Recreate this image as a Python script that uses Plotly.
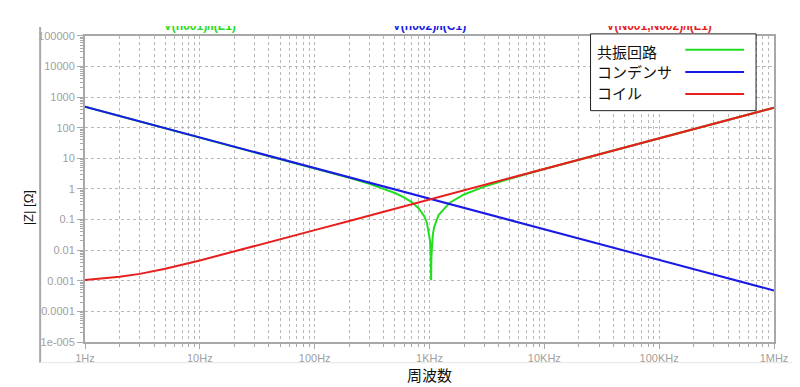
import plotly.graph_objects as go

# ---------------- data ----------------
freq_hz = [1, 2, 3, 5, 10, 20, 50, 100, 200, 300, 400, 500, 600, 700, 800, 900,
           950, 1000, 1010, 1020, 1025, 1030, 1033, 1036, 1040, 1050, 1070, 1100,
           1200, 1500, 2000, 3000, 5000, 10000, 100000, 1000000]

z_resonance = [480, 240, 160, 96, 48, 24, 9.58, 4.755, 2.31, 1.465, 1.02, 0.735,
               0.53, 0.371, 0.24, 0.128, 0.0775, 0.03, 0.0205, 0.0116, 0.007,
               0.0027, 0.00105, 0.0031, 0.0066, 0.0154, 0.033, 0.0586, 0.14,
               0.355, 0.66, 1.19, 2.154, 4.452, 45.0, 450]

z_capacitor = [480, 240, 160, 96, 48, 24, 9.6, 4.8, 2.4, 1.6, 1.2, 0.96, 0.8,
               0.686, 0.6, 0.533, 0.505, 0.48, 0.475, 0.4706, 0.4683, 0.466,
               0.4647, 0.4633, 0.4615, 0.4571, 0.4486, 0.4364, 0.4, 0.32, 0.24,
               0.16, 0.096, 0.048, 0.0048, 0.00048]

z_coil = [0.00105, 0.00135, 0.00168, 0.00246, 0.0046, 0.009, 0.0225, 0.045,
          0.09, 0.135, 0.18, 0.225, 0.27, 0.315, 0.36, 0.405, 0.4275, 0.45,
          0.4545, 0.459, 0.4613, 0.4635, 0.4649, 0.4662, 0.468, 0.4725, 0.4815,
          0.495, 0.54, 0.675, 0.9, 1.35, 2.25, 4.5, 45, 450]

series_names = ["共振回路", "コンデンサ", "コイル"]
probe_labels = ["V(n001)/I(L1)", "V(n002)/I(C1)", "V(N001,N002)/I(L1)"]
probe_label_freq = [10, 1000, 100000]

x_tick_vals = [1, 10, 100, 1000, 10000, 100000, 1000000]
x_tick_text = ["1Hz", "10Hz", "100Hz", "1KHz", "10KHz", "100KHz", "1MHz"]
y_tick_vals = [1e5, 1e4, 1e3, 1e2, 1e1, 1, 0.1, 0.01, 0.001, 0.0001, 0.00001]
y_tick_text = ["100000", "10000", "1000", "100", "10", "1", "0.1", "0.01",
               "0.001", "0.0001", "1e-005"]

x_title = "周波数"
y_title = "|Z| [Ω]"

# ---------------- styling ----------------
colors = ["#22dd22", "#1a1ae6", "#e81e1e"]
GRID = "#b8b8b8"
AX = "#a8a8a8"
TICKFONT = dict(family="Liberation Sans, Arial", size=11, color="#a0a0a0")
CJK = "Noto Sans CJK JP"

# the page has an 8px body margin; layout is designed in window pixels
OFF = 8
W, H = 800 - OFF, 387 - OFF
PLOT_L, PLOT_R, PLOT_T, PLOT_B = 85, 776, 31, 342   # window pixels of the plot frame
PAPER_T = 21                                         # top of paper (clips probe labels)
L = PLOT_L - OFF
R = W - (PLOT_R - OFF)
T = PAPER_T - OFF
B = H - (PLOT_B - OFF)
PW = PLOT_R - PLOT_L
PH = PLOT_B - PAPER_T


def px(x):
    return (x - PLOT_L) / PW


def py(y):
    return (PLOT_B - y) / PH


main_top = py(PLOT_T)

x_minor = [m * 10 ** k for k in range(0, 6) for m in range(2, 10)]
y_minor = [m * 10.0 ** k for k in range(-5, 5) for m in range(2, 10)]

fig = go.Figure()
for name, vals, col in zip(series_names, [z_resonance, z_capacitor, z_coil], colors):
    fig.add_trace(go.Scatter(x=freq_hz, y=vals, mode="lines", name=name,
                             line=dict(color=col, width=2), showlegend=False))

# probe labels in a thin strip above the plot, clipped at its top edge
for lab, f, col in zip(probe_labels, probe_label_freq, colors):
    fig.add_trace(go.Scatter(x=[f], y=[0.95], mode="text", text=[lab],
                             xaxis="x2", yaxis="y2", cliponaxis=True,
                             showlegend=False, hoverinfo="skip",
                             textfont=dict(family="Liberation Sans, Arial", size=12,
                                           color=col, weight="bold")))

shapes = [
    # outer frame lines
    dict(type="line", xref="paper", yref="paper", x0=px(40), x1=px(40),
         y0=py(22), y1=py(363), line=dict(color=AX, width=2), layer="above"),
    dict(type="line", xref="paper", yref="paper", x0=px(40), x1=px(795),
         y0=py(363), y1=py(363), line=dict(color="#e6e6e6", width=1), layer="above"),
    # legend box
    dict(type="rect", xref="paper", yref="paper", x0=px(592), x1=px(758),
         y0=py(107), y1=py(29), fillcolor="white",
         line=dict(color="#222222", width=1), layer="above"),
]
annotations = []
leg_text_y = [46.7, 67.7, 89]
leg_line_y = [45, 67.7, 90]
for name, col, ty, ly in zip(series_names, colors, leg_text_y, leg_line_y):
    shapes.append(dict(type="line", xref="paper", yref="paper", x0=px(687), x1=px(746),
                       y0=py(ly), y1=py(ly), line=dict(color=col, width=2), layer="above"))
    annotations.append(dict(xref="paper", yref="paper", x=px(596), y=py(ty), text=name,
                            showarrow=False, xanchor="left", yanchor="middle",
                            font=dict(family=CJK, size=15, color="#111111")))

annotations.append(dict(xref="paper", yref="paper", x=px(430), y=py(375), text=x_title,
                        showarrow=False, xanchor="center", yanchor="middle",
                        font=dict(family=CJK, size=15, color="#111111")))
annotations.append(dict(xref="paper", yref="paper", x=px(28), y=py(206), text=y_title,
                        showarrow=False, xanchor="center", yanchor="middle", textangle=-90,
                        font=dict(family="Liberation Sans, Arial", size=13, color="#111111")))

fig.update_layout(
    width=W, height=H, autosize=False,
    margin=dict(l=L, r=R, t=T, b=B, pad=0),
    paper_bgcolor="white", plot_bgcolor="white",
    showlegend=False,
    shapes=shapes, annotations=annotations,
    xaxis=dict(type="log", range=[0, 6], domain=[0, 1], anchor="y",
               tickmode="array", tickvals=x_tick_vals,
               ticktext=x_tick_text, ticks="outside", ticklen=5, tickwidth=1,
               tickcolor=AX, tickfont=TICKFONT, showline=True, linecolor=AX,
               linewidth=2, mirror=True, showgrid=True, gridcolor=GRID, gridwidth=1,
               griddash="dot", zeroline=False,
               minor=dict(tickmode="array", tickvals=x_minor, ticks="outside", ticklen=3,
                          tickcolor=AX, showgrid=True, gridcolor=GRID, griddash="dot",
                          gridwidth=1)),
    yaxis=dict(type="log", range=[-5, 5], domain=[0, main_top], anchor="x",
               tickmode="array", tickvals=y_tick_vals,
               ticktext=y_tick_text, ticks="outside", ticklen=6, tickwidth=1,
               tickcolor=AX, tickfont=TICKFONT, showline=True, linecolor=AX,
               linewidth=2, mirror=True, showgrid=True, gridcolor=GRID, gridwidth=1,
               griddash="dot", zeroline=False,
               minor=dict(tickmode="array", tickvals=y_minor, ticks="outside", ticklen=3,
                          tickcolor=AX, showgrid=False)),
    xaxis2=dict(type="log", range=[0, 6], domain=[0, 1], anchor="y2", visible=False),
    yaxis2=dict(range=[0, 1], domain=[main_top, 1], anchor="x2", visible=False),
)

fig.write_html("out.html")
